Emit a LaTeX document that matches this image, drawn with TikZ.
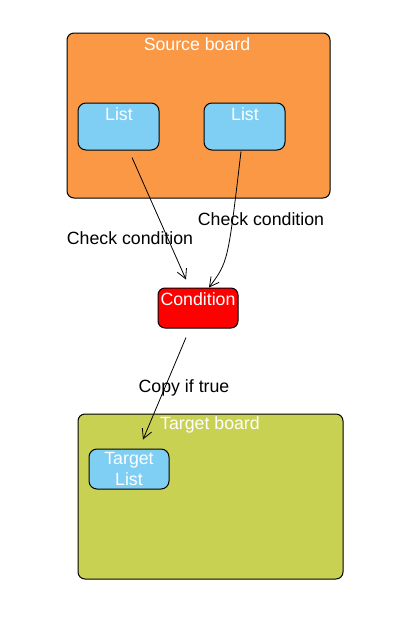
\documentclass[tikz,border=0pt]{standalone}
\usepackage{fontspec}
\setmainfont{Liberation Sans}
\usetikzlibrary{arrows.meta}
\definecolor{boardorange}{RGB}{250,152,70}
\definecolor{boardolive}{RGB}{201,209,82}
\definecolor{listblue}{RGB}{127,206,244}

\begin{document}
\begin{tikzpicture}[x=0.75pt,y=0.75pt,yscale=-1,xscale=1,
  every node/.style={font=\fontsize{13.3}{15.8}\selectfont},
  board/.style={draw, line width=0.75pt, rounded corners=5.25pt, inner sep=0pt},
  listbox/.style={draw, fill=listblue, line width=0.75pt, rounded corners=6pt, inner sep=0pt},
  title/.style={text=white, inner sep=0pt},
  conn/.style={line width=0.6pt, -{Straight Barb[length=7pt,width=7.5pt]}}]
\useasboundingbox (0,0) rectangle (414,626);

%Boards
\node [board, fill=boardorange, minimum width=197.25pt, minimum height=123.75pt] (src) at (198.5,115.5) {};
\node [board, fill=boardolive, minimum width=198.75pt, minimum height=123.75pt] (tgt) at (210.5,496.5) {};

%Lists
\node [listbox, minimum width=60.75pt, minimum height=35.25pt] (lista) at (118.5,126.5) {};
\node [listbox, minimum width=60.75pt, minimum height=35.25pt] (listb) at (244.5,126.5) {};
\node [listbox, minimum width=60pt, minimum height=30pt, text=white, align=center] (tlist) at (129,469) {Target\\List};

%Condition
\node [board, fill=red, minimum width=60pt, minimum height=30pt] (cond) at (198,308) {};

% Text Node
\node [title] (srct) at (197,44) {Source board};
\node [title] (tgtt) at (210,425) {Target board};
\node [title] (listat) at (119,114) {List};
\node [title] (listbt) at (245,114) {List};
\node [title] (condt) at (198,299) {Condition};

%Connectors
\draw [conn] ([shift={(13.5,7)}]lista.south) -- ([shift={(-12,-8)}]cond.north);
\draw [conn] ([shift={(-3.5,1)}]listb.south) .. controls (228,262) .. ([shift={(11,0)}]cond.north);
\draw [conn] ([shift={(-12,9)}]cond.south) -- ([shift={(14,-9)}]tlist.north);

% Text Node
\node (chka) at (130,238) {Check condition};
\node (chkb) at (261,219) {Check condition};
\node (copy) at (184,388) {Copy if true};

\end{tikzpicture}
\end{document}
